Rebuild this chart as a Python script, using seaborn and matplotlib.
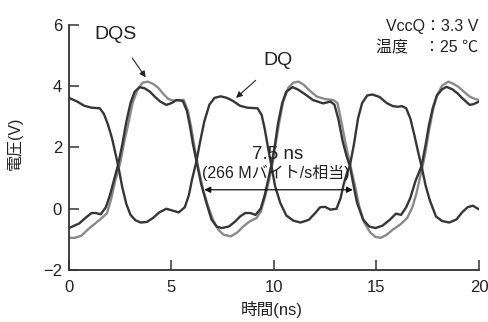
import numpy as np
import pandas as pd
import seaborn as sns
import matplotlib
matplotlib.use('Agg')
import matplotlib.pyplot as plt

# DQ (dark) trace that follows DQS
dq_a_t = [0.0, 0.5, 0.8, 1.1, 1.3, 1.55, 1.8, 2.0, 2.2, 2.4, 2.6, 2.8, 3.0, 3.2, 3.45, 3.7,
          3.95, 4.2, 4.45, 4.75, 5.0, 5.25, 5.55, 5.75, 5.9, 6.05, 6.25, 6.45, 6.7, 6.95, 7.2,
          7.45, 7.8, 8.1, 8.35, 8.6, 8.85, 9.1, 9.35, 9.55, 9.7, 9.88, 10.05, 10.2, 10.4, 10.6,
          10.9, 11.15, 11.45, 11.9, 12.4, 12.75, 12.95, 13.15, 13.35, 13.55, 13.7, 13.9, 14.05,
          14.35, 14.65, 14.95, 15.3, 15.65, 15.95, 16.2, 16.45, 16.65, 16.9, 17.2, 17.4, 17.55,
          17.75, 17.95, 18.2, 18.42, 18.7, 18.95, 19.2, 19.55, 19.75, 20.0]
dq_a_v = [-0.63, -0.48, -0.30, -0.14, -0.14, -0.18, 0.05, 0.45, 0.95, 1.45, 2.1, 2.85, 3.45,
          3.82, 3.97, 3.93, 3.82, 3.65, 3.5, 3.39, 3.45, 3.55, 3.52, 3.2, 2.7, 2.1, 1.45, 0.8,
          0.2, -0.35, -0.58, -0.63, -0.58, -0.42, -0.25, -0.14, -0.14, -0.2, 0.0, 0.45, 0.9,
          1.45, 2.1, 2.8, 3.45, 3.82, 3.97, 3.9, 3.77, 3.55, 3.44, 3.5, 3.4, 2.9, 2.2, 1.7, 1.4,
          0.7, 0.2, -0.36, -0.58, -0.63, -0.55, -0.36, -0.16, -0.2, 0.05, 0.35, 0.9, 1.4, 2.1,
          2.7, 3.3, 3.7, 3.9, 3.98, 3.9, 3.77, 3.6, 3.39, 3.42, 3.5]

# DQ (dark) complementary trace
dq_b_t = [0.0, 0.4, 0.75, 1.1, 1.5, 1.7, 1.9, 2.1, 2.3, 2.4, 2.6, 2.8, 3.0, 3.25, 3.5, 3.8,
          4.1, 4.4, 4.75, 5.05, 5.35, 5.65, 5.85, 6.0, 6.2, 6.4, 6.6, 6.85, 7.1, 7.4, 7.7, 8.0,
          8.35, 8.7, 9.2, 9.4, 9.55, 9.72, 9.88, 10.05, 10.3, 10.6, 10.95, 11.3, 11.7, 12.0,
          12.25, 12.5, 12.75, 13.05, 13.25, 13.4, 13.55, 13.7, 13.9, 14.1, 14.3, 14.55, 14.8,
          15.15, 15.5, 15.8, 16.05, 16.25, 16.45, 16.65, 16.85, 17.05, 17.2, 17.4, 17.6, 17.9,
          18.2, 18.55, 18.9, 19.2, 19.45, 19.7, 20.0]
dq_b_v = [3.62, 3.5, 3.36, 3.3, 3.28, 3.1, 2.75, 2.3, 1.7, 1.4, 0.7, 0.15, -0.2, -0.38, -0.45,
          -0.43, -0.3, -0.12, 0.0, -0.06, -0.12, 0.05, 0.45, 0.95, 1.5, 2.2, 2.85, 3.4, 3.62,
          3.67, 3.62, 3.52, 3.36, 3.3, 3.28, 3.06, 2.6, 1.95, 1.38, 0.75, 0.2, -0.22, -0.39,
          -0.45, -0.36, -0.15, 0.05, 0.06, -0.03, 0.0, 0.35, 0.8, 1.15, 1.4, 2.1, 2.95, 3.45,
          3.7, 3.73, 3.65, 3.45, 3.35, 3.33, 3.35, 3.28, 2.95, 2.4, 1.8, 1.38, 0.75, 0.28, -0.25,
          -0.4, -0.45, -0.35, -0.1, 0.05, 0.1, -0.02]

# DQS (gray) trace
dqs_t = [0.0, 0.3, 0.6, 1.0, 1.5, 1.85, 2.05, 2.25, 2.5, 2.7, 2.9, 3.1, 3.35, 3.6, 3.85, 4.1,
         4.35, 4.6, 4.85, 5.1, 5.35, 5.6, 5.8, 5.95, 6.15, 6.35, 6.55, 6.8, 7.05, 7.3, 7.55, 7.9,
         8.2, 8.5, 8.8, 9.15, 9.35, 9.55, 9.75, 9.95, 10.1, 10.25, 10.45, 10.7, 10.95, 11.2,
         11.45, 11.75, 12.1, 12.5, 12.9, 13.1, 13.3, 13.5, 13.75, 13.95, 14.15, 14.4, 14.7,
         14.95, 15.2, 15.5, 15.8, 16.15, 16.5, 16.75, 16.95, 17.15, 17.35, 17.55, 17.75, 17.95,
         18.2, 18.5, 18.75, 19.0, 19.3, 19.55, 19.75, 20.0]
dqs_v = [-0.95, -0.95, -0.88, -0.63, -0.36, -0.15, 0.3, 0.9, 1.5, 2.2, 2.8, 3.45, 3.9, 4.12,
         4.15, 4.08, 3.95, 3.75, 3.58, 3.53, 3.55, 3.55, 3.2, 2.7, 1.9, 1.2, 0.6, 0.05, -0.4,
         -0.7, -0.85, -0.9, -0.78, -0.58, -0.42, -0.3, -0.1, 0.35, 0.9, 1.55, 2.2, 2.8, 3.5,
         3.95, 4.12, 4.15, 4.05, 3.85, 3.66, 3.58, 3.55, 3.45, 2.8, 2.1, 1.35, 0.75, 0.1, -0.45,
         -0.78, -0.92, -0.95, -0.85, -0.68, -0.52, -0.3, 0.05, 0.5, 1.1, 1.7, 2.5, 3.2, 3.7,
         4.02, 4.15, 4.08, 3.98, 3.8, 3.66, 3.6, 3.55]

x_ticks = [0, 5, 10, 15, 20]
y_ticks = [-2, 0, 2, 4, 6]

DARK = '#363636'
GRAY = '#8a8a8a'
TXT = '#222222'

df = pd.concat([
    pd.DataFrame({'t': dqs_t, 'v': dqs_v, 'trace': 'DQS'}),
    pd.DataFrame({'t': dq_a_t, 'v': dq_a_v, 'trace': 'DQ_a'}),
    pd.DataFrame({'t': dq_b_t, 'v': dq_b_v, 'trace': 'DQ_b'}),
], ignore_index=True)

sns.set_style('ticks')
plt.rcParams['font.family'] = ['Liberation Sans', 'Noto Sans CJK JP']
plt.rcParams['axes.unicode_minus'] = True
plt.rcParams['xtick.direction'] = 'in'
plt.rcParams['ytick.direction'] = 'in'

fig = plt.figure(figsize=(4.89, 3.22), dpi=100)
ax = fig.add_axes([0.1411, 0.1615, 0.8384, 0.7609])

sns.lineplot(data=df, x='t', y='v', hue='trace', sort=False, estimator=None,
             palette={'DQS': GRAY, 'DQ_a': DARK, 'DQ_b': DARK},
             linewidth=1.7, legend=False, ax=ax)

ax.set_xlim(0, 20)
ax.set_ylim(-2, 6)
ax.set_xticks(x_ticks)
ax.set_yticks(y_ticks)
ax.tick_params(direction='in', length=7, width=1.1, color='#333333',
               labelsize=12, labelcolor=TXT)
ax.tick_params(axis='x', pad=7)
ax.tick_params(axis='y', pad=5)
sns.despine(ax=ax)
for s in ['left', 'bottom']:
    ax.spines[s].set_linewidth(1.3)
    ax.spines[s].set_color('#333333')

ax.set_xlabel('')
ax.set_ylabel('')
fig.text(272 / 489, 1 - 309 / 322, '時間(ns)', ha='center', va='center', fontsize=12, color=TXT)
fig.text(15 / 489, 1 - 143 / 322, '電圧(V)', ha='center', va='center', rotation=90, fontsize=11.5, color=TXT)

# labels with arrows
ax.annotate('DQS', xy=(3.74, 4.29), xytext=(2.29, 5.68), ha='center', va='center',
            fontsize=14, color=TXT,
            arrowprops=dict(arrowstyle='-|>', color=TXT, lw=0.8, mutation_scale=9,
                            shrinkA=10, shrinkB=0))
ax.annotate('DQ', xy=(8.15, 3.62), xytext=(10.2, 4.85), ha='center', va='center',
            fontsize=14, color=TXT,
            arrowprops=dict(arrowstyle='-|>', color=TXT, lw=0.8, mutation_scale=9,
                            shrinkA=9, shrinkB=0))

ax.text(19.95, 5.96, 'VccQ：3.3 V', ha='right', va='center', fontsize=11.5, color=TXT)
ax.text(19.95, 5.26, '温度　：25 ℃', ha='right', va='center', fontsize=11.5, color=TXT)

ax.annotate('', xy=(6.6, 0.62), xytext=(13.85, 0.62),
            arrowprops=dict(arrowstyle='<|-|>', color='#111111', lw=0.9, mutation_scale=9,
                            shrinkA=0, shrinkB=0))
ax.text(10.2, 1.76, '7.5 ns', ha='center', va='center', fontsize=13.5, color=TXT)
ax.text(10.1, 1.18, '(266 Mバイト/s相当)', ha='center', va='center', fontsize=11.5, color=TXT)

fig.savefig('out.png', dpi=100)
